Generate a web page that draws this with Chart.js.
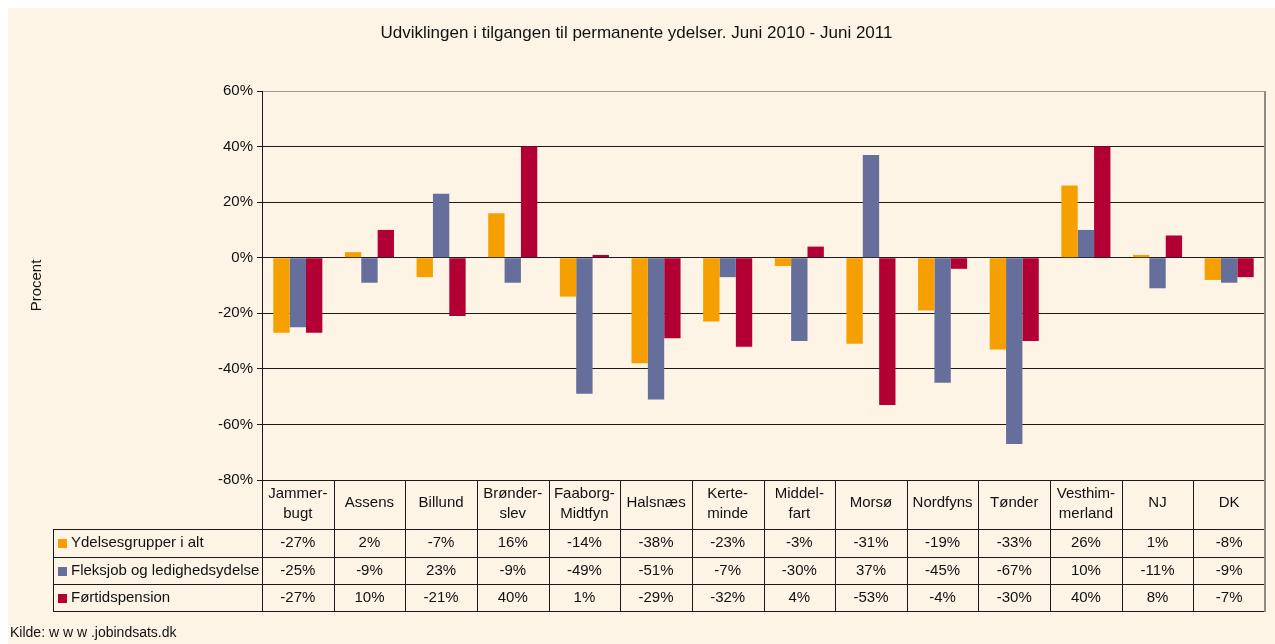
<!DOCTYPE html>
<html>
<head>
<meta charset="utf-8">
<script src="https://cdn.jsdelivr.net/npm/chart.js@4"></script>
<style>
  html, body { margin: 0; padding: 0; background: #fff; }
  #wrap { width: 1275px; height: 644px; position: relative; }
</style>
</head>
<body>
<div id="wrap"><canvas id="chart" width="1275" height="644"></canvas></div>
<script>
const categories = [
  ['Jammer-', 'bugt'], 'Assens', 'Billund', ['Brønder-', 'slev'], ['Faaborg-', 'Midtfyn'],
  'Halsnæs', ['Kerte-', 'minde'], ['Middel-', 'fart'], 'Morsø', 'Nordfyns', 'Tønder',
  ['Vesthim-', 'merland'], 'NJ', 'DK'
];
const seriesNames = ['Ydelsesgrupper i alt', 'Fleksjob og ledighedsydelse', 'Førtidspension'];
const ydelser = [-27, 2, -7, 16, -14, -38, -23, -3, -31, -19, -33, 26, 1, -8];
const fleksjob = [-25, -9, 23, -9, -49, -51, -7, -30, 37, -45, -67, 10, -11, -9];
const fortid = [-27, 10, -21, 40, 1, -29, -32, 4, -53, -4, -30, 40, 8, -7];
const colors = ['#F5A000', '#666E9B', '#B30034'];

const FONT = '"Liberation Sans", Arial, sans-serif';
const BG = '#FEF4E6';

// background + data table below the plot
const tablePlugin = {
  id: 'table',
  beforeDraw(chart) {
    const ctx = chart.ctx;
    ctx.save();
    ctx.fillStyle = BG;
    ctx.fillRect(8, 8, chart.width - 8, chart.height - 8);
    ctx.restore();
  },
  afterDraw(chart) {
    const ctx = chart.ctx;
    const area = chart.chartArea;
    const x = chart.scales.x;
    const step = (area.right - area.left) / categories.length;
    const top = area.bottom;
    const headBottom = 529;
    const rows = [529, 557, 584, 611];
    const legendLeft = 53;

    ctx.save();
    ctx.lineWidth = 1;
    ctx.strokeStyle = '#1a1a1a';

    // horizontal lines
    ctx.beginPath();
    rows.forEach(r => {
      ctx.moveTo(legendLeft, r + 0.5);
      ctx.lineTo(area.right, r + 0.5);
    });
    ctx.moveTo(legendLeft + 0.5, headBottom);
    ctx.lineTo(legendLeft + 0.5, 611);
    for (let i = 0; i < categories.length; i++) {
      const lx = Math.round(area.left + i * step) + 0.5;
      ctx.moveTo(lx, top);
      ctx.lineTo(lx, 611);
    }
    ctx.stroke();

    // right frame (grey)
    ctx.strokeStyle = '#8c8c8c';
    ctx.lineWidth = 2;
    ctx.beginPath();
    ctx.moveTo(area.right, area.top);
    ctx.lineTo(area.right, 612);
    ctx.stroke();

    ctx.fillStyle = '#111';
    ctx.font = '15px ' + FONT;
    ctx.textAlign = 'center';
    ctx.textBaseline = 'middle';

    // header labels
    categories.forEach((c, i) => {
      const cx = x.getPixelForValue(i);
      if (Array.isArray(c)) {
        ctx.fillText(c[0], cx, 494);
        ctx.fillText(c[1], cx, 514);
      } else {
        ctx.fillText(c, cx, 503);
      }
    });

    // values
    const series = [ydelser, fleksjob, fortid];
    const centers = [543, 571, 598];
    series.forEach((s, r) => {
      s.forEach((v, i) => {
        ctx.fillText(v + '%', x.getPixelForValue(i), centers[r]);
      });
      ctx.fillStyle = colors[r];
      ctx.fillRect(58, centers[r] - 4, 9, 9);
      ctx.fillStyle = '#111';
      ctx.textAlign = 'left';
      ctx.fillText(seriesNames[r], 71, centers[r]);
      ctx.textAlign = 'center';
    });

    // source
    ctx.textAlign = 'left';
    ctx.font = '14px ' + FONT;
    ctx.fillText('Kilde: w w w .jobindsats.dk', 10, 633);
    ctx.restore();
  }
};

new Chart(document.getElementById('chart'), {
  type: 'bar',
  data: {
    labels: categories,
    datasets: [
      { label: seriesNames[0], data: ydelser, backgroundColor: colors[0] },
      { label: seriesNames[1], data: fleksjob, backgroundColor: colors[1] },
      { label: seriesNames[2], data: fortid, backgroundColor: colors[2] },
    ],
  },
  options: {
    responsive: false,
    animation: false,
    events: [],
    layout: { padding: { left: 8, right: 10, top: 0, bottom: 164 } },
    datasets: { bar: { categoryPercentage: 0.685, barPercentage: 1.0 } },
    plugins: {
      legend: { display: false },
      tooltip: { enabled: false },
      title: {
        display: true,
        text: 'Udviklingen i tilgangen til permanente ydelser. Juni 2010 - Juni 2011',
        color: '#111',
        font: { family: FONT, size: 17, weight: 'normal' },
        padding: { top: 23, bottom: 47.6 },
      },
    },
    scales: {
      x: { display: false },
      y: {
        min: -80,
        max: 60,
        afterFit(scale) { scale.width = 254; },
        ticks: {
          stepSize: 20,
          color: '#111',
          padding: 4,
          font: { family: FONT, size: 15 },
          callback: v => v + '%',
        },
        grid: {
          color: ctx => (ctx.tick && ctx.tick.value === 60 ? '#999999' : '#1a1a1a'),
          tickColor: '#1a1a1a',
          tickLength: 5,
          lineWidth: 1,
        },
        border: { color: '#1a1a1a', width: 1 },
        title: {
          display: true,
          text: 'Procent',
          color: '#111',
          font: { family: FONT, size: 15 },
          padding: { top: 20 },
        },
      },
    },
  },
  plugins: [tablePlugin],
});
</script>
</body>
</html>
